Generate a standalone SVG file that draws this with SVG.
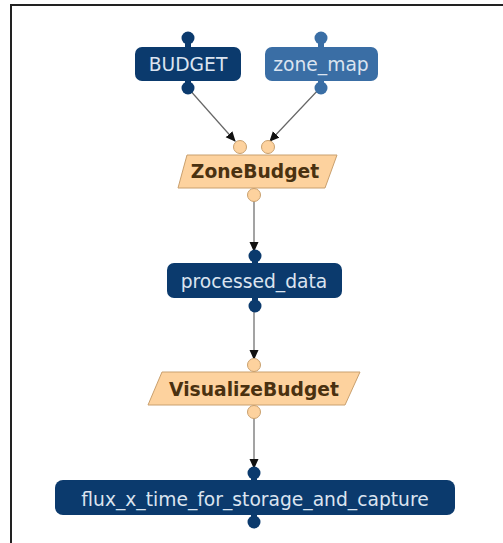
<svg xmlns="http://www.w3.org/2000/svg" width="503" height="543" viewBox="0 0 503 543">
<style>
.data rect, .data circle{fill:#0b3a6d}
.param rect, .param circle{fill:#3a6ea5}
.lbl{font-family:"DejaVu Sans",sans-serif;font-size:18.7px;fill:#dbe4f0;text-anchor:middle}
.proc polygon{fill:#fdd29e;stroke:#c9a06e;stroke-width:1}
.proc circle{fill:#fdd29e;stroke:#c9a06e;stroke-width:1}
.plbl{font-family:"DejaVu Sans",sans-serif;font-weight:bold;font-size:18.7px;fill:#4a3110;text-anchor:middle}
.edge{stroke:#666;stroke-width:1.2;fill:none;marker-end:url(#arr)}
</style>
<defs>
<marker id="arr" markerWidth="10" markerHeight="11" refX="9" refY="5" orient="auto" markerUnits="userSpaceOnUse">
<path d="M0,0.5 L10,5 L0,9.5 Z" fill="#111"/>
</marker>
</defs>
<rect width="503" height="543" fill="#fff"/>
<path d="M11,543 V5 H503" fill="none" stroke="#222" stroke-width="2"/>
<g id="connectors">
<line class="edge" x1="188" y1="88" x2="235" y2="141"/>
<line class="edge" x1="320" y1="88" x2="270" y2="141"/>
<line class="edge" x1="254" y1="200" x2="254" y2="251"/>
<line class="edge" x1="254" y1="306" x2="254" y2="359"/>
<line class="edge" x1="254" y1="418" x2="254" y2="468"/>
</g>
<g id="BUDGET" class="data">
<circle cx="188" cy="38" r="6.5"/>
<circle cx="188" cy="88" r="6.5"/>
<rect x="185" y="40" width="6" height="46"/>
<rect x="135" y="47" width="106" height="34" rx="7"/>
<text class="lbl" x="188" y="71">BUDGET</text>
</g>
<g id="zone_map" class="param">
<circle cx="321" cy="38" r="6.5"/>
<circle cx="321" cy="88" r="6.5"/>
<rect x="318" y="40" width="6" height="46"/>
<rect x="265" y="47" width="113" height="34" rx="7"/>
<text class="lbl" x="321" y="71">zone_map</text>
</g>
<g id="ZoneBudget" class="proc">
<circle cx="240" cy="147" r="6.5"/>
<circle cx="268" cy="147" r="6.5"/>
<circle cx="254" cy="195" r="6.5"/>
<polygon points="187,155 337,155 325,188 178,188"/>
<text class="plbl" x="255" y="178">ZoneBudget</text>
</g>
<g id="processed_data" class="data">
<circle cx="255" cy="256" r="6.5"/>
<circle cx="255" cy="306" r="6.5"/>
<rect x="252" y="258" width="6" height="46"/>
<rect x="167" y="263" width="175" height="35" rx="7"/>
<text class="lbl" x="254" y="288">processed_data</text>
</g>
<g id="VisualizeBudget" class="proc">
<circle cx="254" cy="365" r="6.5"/>
<circle cx="254" cy="412" r="6.5"/>
<polygon points="162,372 360,372 345,405 148,405"/>
<text class="plbl" x="254" y="396">VisualizeBudget</text>
</g>
<g id="flux_x_time_for_storage_and_capture" class="data">
<circle cx="254" cy="473" r="6.5"/>
<circle cx="254" cy="522" r="6.5"/>
<rect x="251" y="475" width="6" height="45"/>
<rect x="55" y="480" width="400" height="35" rx="8"/>
<text class="lbl" x="255" y="506">flux_x_time_for_storage_and_capture</text>
</g>
</svg>
